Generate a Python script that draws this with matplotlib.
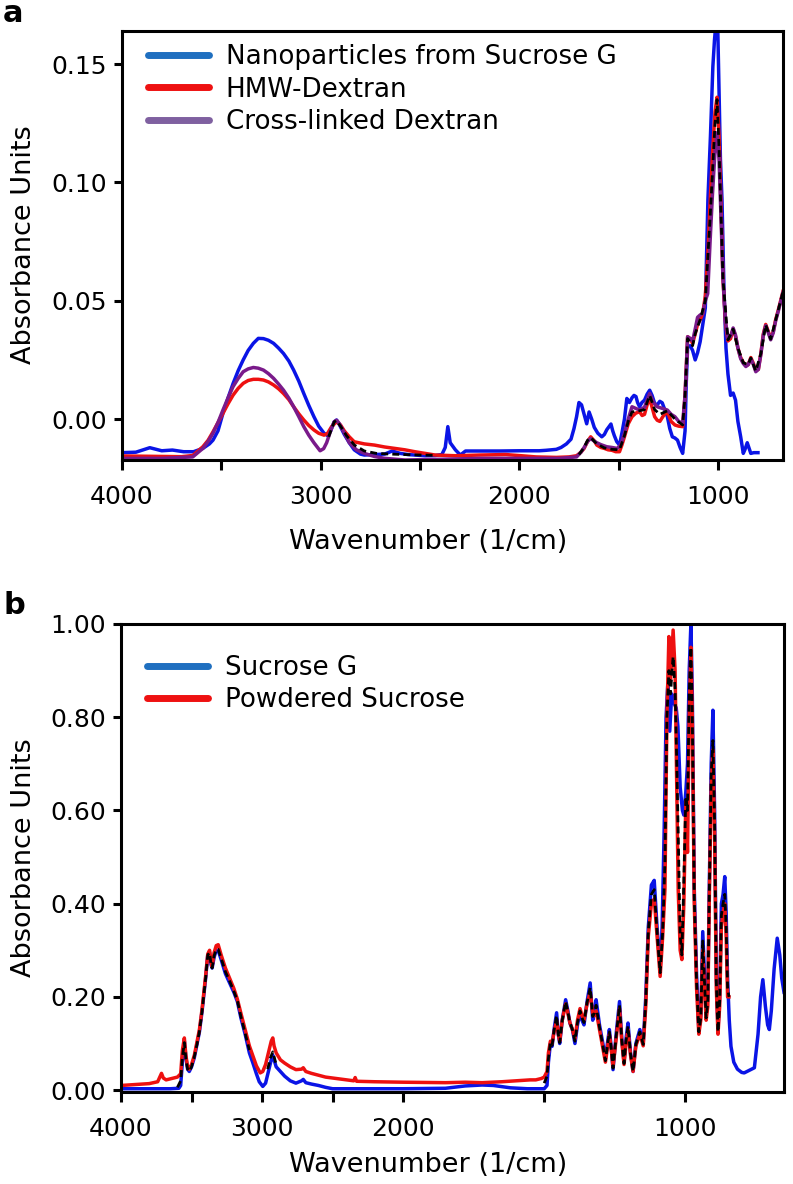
import numpy as np
import matplotlib
matplotlib.use("Agg")
import matplotlib.pyplot as plt
from matplotlib.lines import Line2D

# ---- panel a: nanoparticles / dextrans ----
wn_a_blue = [4000, 3930, 3860, 3800, 3746, 3690, 3640, 3593, 3560, 3542, 3517, 3492, 3466, 3441,
             3415, 3390, 3365, 3339, 3314, 3288, 3263, 3237, 3212, 3187, 3160, 3136, 3110, 3085,
             3060, 3034, 3010, 2983, 2965, 2950, 2932, 2920, 2905, 2881, 2856, 2831, 2800, 2780,
             2730, 2678, 2640, 2600, 2560, 2526, 2475, 2424, 2390, 2373, 2360, 2348, 2335, 2322,
             2297, 2271, 2200, 2100, 2000, 1900, 1865, 1814, 1790, 1763, 1740, 1725, 1712, 1700,
             1687, 1674, 1661, 1649, 1636, 1623, 1605, 1585, 1572, 1560, 1547, 1539, 1530, 1522,
             1510, 1496, 1484, 1471, 1459, 1446, 1433, 1423, 1413, 1405, 1395, 1383, 1370, 1357,
             1344, 1332, 1319, 1306, 1293, 1281, 1268, 1255, 1243, 1230, 1217, 1204, 1191, 1178,
             1166, 1160, 1153, 1140, 1128, 1115, 1103, 1090, 1077, 1064, 1051, 1038, 1026, 1018,
             1010, 1002, 995, 988, 980, 970, 960, 950, 937, 924, 912, 900, 886, 873, 865, 853,
             845, 835, 820, 799]
ab_a_blue = [-0.0142, -0.0140, -0.0121, -0.0134, -0.0131, -0.0138, -0.0138, -0.0124, -0.0105,
             -0.0089, -0.0050, 0.0024, 0.0090, 0.0150, 0.0205, 0.0250, 0.0290, 0.0320, 0.0341,
             0.0340, 0.0333, 0.0320, 0.0300, 0.0277, 0.0245, 0.0207, 0.0160, 0.0108, 0.0058,
             0.0010, -0.0030, -0.0060, -0.0070, -0.0050, -0.0012, -0.0004, -0.0025, -0.0065,
             -0.0100, -0.0130, -0.0148, -0.0152, -0.0150, -0.0148, -0.0135, -0.0145, -0.0150,
             -0.0152, -0.0155, -0.0154, -0.0150, -0.0120, -0.0032, -0.0100, -0.0115, -0.0130,
             -0.0152, -0.0135, -0.0135, -0.0135, -0.0134, -0.0134, -0.0132, -0.0128, -0.0120,
             -0.0105, -0.0085, -0.0040, 0.0010, 0.0070, 0.0060, 0.0020, -0.0020, 0.0030, 0.0000,
             -0.0035, -0.0060, -0.0075, -0.0065, -0.0045, -0.0030, -0.0021, -0.0050, -0.0070,
             -0.0095, -0.0110, -0.0060, 0.0000, 0.0087, 0.0070, 0.0090, 0.0100, 0.0095, 0.0070,
             0.0052, 0.0070, 0.0080, 0.0105, 0.0122, 0.0100, 0.0066, 0.0060, 0.0075, 0.0069,
             0.0040, 0.0010, -0.0040, -0.0075, -0.0080, -0.0089, -0.0120, -0.0145, -0.0050,
             0.0150, 0.0306, 0.0310, 0.0290, 0.0250, 0.0280, 0.0327, 0.0400, 0.0470, 0.0926,
             0.1200, 0.1490, 0.1600, 0.1680, 0.1680, 0.1400, 0.1100, 0.0926, 0.0545, 0.0300,
             0.0190, 0.0100, 0.0110, 0.0080, -0.0010, -0.0075, -0.0145, -0.0130, -0.0100,
             -0.0120, -0.0145, -0.0142, -0.0142]

wn_a_red = [4000, 3900, 3800, 3700, 3644, 3593, 3567, 3542, 3517, 3492, 3466, 3441, 3415, 3390,
            3365, 3339, 3314, 3288, 3263, 3237, 3212, 3187, 3160, 3136, 3110, 3085, 3060, 3034,
            3010, 2983, 2965, 2945, 2920, 2900, 2881, 2856, 2831, 2780, 2729, 2678, 2627, 2576,
            2526, 2475, 2424, 2322, 2200, 2068, 1990, 1916, 1814, 1750, 1712, 1690, 1674, 1657,
            1641, 1625, 1610, 1590, 1572, 1553, 1534, 1515, 1496, 1484, 1471, 1452, 1433, 1414,
            1395, 1382, 1370, 1357, 1344, 1332, 1319, 1306, 1293, 1274, 1255, 1236, 1217, 1198,
            1178, 1166, 1153, 1140, 1128, 1115, 1103, 1090, 1077, 1064, 1051, 1038, 1026, 1015,
            1005, 995, 985, 975, 962, 950, 937, 924, 912, 900, 886, 873, 860, 848, 835, 822, 810,
            797, 784, 772, 760, 747, 735, 722, 710, 697, 685, 673]
ab_a_red = [-0.0156, -0.0157, -0.0158, -0.0159, -0.0154, -0.0117, -0.0090, -0.0054, -0.0015,
            0.0024, 0.0065, 0.0101, 0.0130, 0.0151, 0.0163, 0.0168, 0.0168, 0.0165, 0.0157,
            0.0144, 0.0128, 0.0108, 0.0082, 0.0052, 0.0022, -0.0004, -0.0027, -0.0046, -0.0060,
            -0.0068, -0.0060, -0.0032, -0.0011, -0.0025, -0.0050, -0.0075, -0.0096, -0.0105,
            -0.0110, -0.0118, -0.0124, -0.0130, -0.0138, -0.0145, -0.0152, -0.0155, -0.0152,
            -0.0150, -0.0155, -0.0160, -0.0162, -0.0160, -0.0155, -0.0140, -0.0124, -0.0095,
            -0.0075, -0.0090, -0.0110, -0.0120, -0.0124, -0.0130, -0.0132, -0.0138, -0.0138,
            -0.0110, -0.0075, -0.0020, 0.0010, 0.0025, 0.0031, 0.0015, 0.0020, 0.0060, 0.0087,
            0.0050, 0.0010, -0.0005, -0.0010, 0.0015, 0.0031, -0.0010, -0.0025, -0.0030,
            -0.0032, 0.0100, 0.0348, 0.0340, 0.0320, 0.0360, 0.0400, 0.0420, 0.0446, 0.0520,
            0.0700, 0.0950, 0.1150, 0.1300, 0.1360, 0.1200, 0.0900, 0.0590, 0.0400, 0.0330,
            0.0340, 0.0380, 0.0350, 0.0300, 0.0260, 0.0240, 0.0225, 0.0230, 0.0260, 0.0235,
            0.0205, 0.0210, 0.0280, 0.0360, 0.0400, 0.0370, 0.0340, 0.0370, 0.0420, 0.0460,
            0.0500, 0.0540]

wn_a_purple = [4000, 3800, 3644, 3593, 3567, 3542, 3517, 3492, 3466, 3441, 3415, 3390, 3365,
               3339, 3314, 3288, 3263, 3237, 3212, 3187, 3160, 3136, 3110, 3085, 3060, 3034,
               3003, 2985, 2970, 2950, 2932, 2920, 2907, 2880, 2856, 2820, 2780, 2730, 2678,
               2576, 2400, 2200, 2000, 1800, 1712, 1690, 1674, 1657, 1641, 1625, 1610, 1590,
               1560, 1534, 1508, 1490, 1471, 1452, 1433, 1414, 1395, 1370, 1357, 1344, 1325,
               1306, 1280, 1255, 1236, 1217, 1198, 1178, 1166, 1153, 1140, 1128, 1115, 1103,
               1090, 1077, 1064, 1052, 1040, 1028, 1016, 1005, 995, 985, 975, 962, 950, 937,
               924, 912, 900, 886, 873, 860, 848, 835, 822, 810, 797, 784, 772, 760, 747, 735,
               722, 710, 697, 685, 673]
ab_a_purple = [-0.0166, -0.0166, -0.0160, -0.0124, -0.0095, -0.0060, -0.0015, 0.0038, 0.0090,
               0.0137, 0.0172, 0.0200, 0.0212, 0.0218, 0.0215, 0.0207, 0.0192, 0.0172, 0.0148,
               0.0122, 0.0088, 0.0052, 0.0010, -0.0032, -0.0068, -0.0100, -0.0134, -0.0125,
               -0.0100, -0.0050, -0.0011, -0.0005, -0.0018, -0.0060, -0.0100, -0.0130, -0.0145,
               -0.0158, -0.0166, -0.0173, -0.0170, -0.0166, -0.0166, -0.0166, -0.0160, -0.0140,
               -0.0120, -0.0095, -0.0082, -0.0092, -0.0100, -0.0108, -0.0117, -0.0120, -0.0124,
               -0.0110, -0.0060, 0.0000, 0.0052, 0.0045, 0.0038, 0.0050, 0.0080, 0.0108, 0.0070,
               0.0052, 0.0045, 0.0038, 0.0020, 0.0010, -0.0010, -0.0018, 0.0100, 0.0348, 0.0340,
               0.0330, 0.0380, 0.0430, 0.0440, 0.0446, 0.0500, 0.0530, 0.0750, 0.0950, 0.1120,
               0.1210, 0.1100, 0.0850, 0.0590, 0.0410, 0.0340, 0.0350, 0.0385, 0.0355, 0.0300,
               0.0255, 0.0235, 0.0222, 0.0230, 0.0255, 0.0230, 0.0200, 0.0210, 0.0275, 0.0355,
               0.0395, 0.0365, 0.0335, 0.0365, 0.0415, 0.0455, 0.0495, 0.0535]

# black dashed overlay trace (gaps where it is hidden)
wn_a_black = [2960, 2932, 2920, 2900, 2870, 2830, 2780, 2720, 2650, 2580, 2500, 2430, np.nan,
              1700, 1674, 1657, 1641, 1610, 1572, 1534, 1496, 1471, 1452, 1433, 1395, 1370, 1344,
              1319, 1293, 1255, 1217, 1178, 1166, 1153, 1128, 1115, 1090, 1064, 1040, 1015, 1005,
              995, 975, 950, 924, 900, 873, 848, 835, 810, 784, 760, 735, 710, 673]
ab_a_black = [-0.0075, -0.0012, -0.0006, -0.0030, -0.0070, -0.0110, -0.0135, -0.0145, -0.0148,
              -0.0150, -0.0152, -0.0153, np.nan,
              -0.0150, -0.0120, -0.0090, -0.0078, -0.0105, -0.0122, -0.0128, -0.0130, -0.0070,
              -0.0010, 0.0030, 0.0035, 0.0040, 0.0100, 0.0040, 0.0020, 0.0035, 0.0000, -0.0025,
              0.0100, 0.0340, 0.0310, 0.0360, 0.0420, 0.0500, 0.0850, 0.1250, 0.1350, 0.1150,
              0.0590, 0.0335, 0.0380, 0.0300, 0.0238, 0.0230, 0.0258, 0.0203, 0.0278, 0.0398,
              0.0338, 0.0418, 0.0538]

# ---- panel b: sucrose ----
wn_b_blue = [4000, 3800, 3650, 3590, 3577, 3565, 3551, 3540, 3528, 3516, 3500, 3480, 3460, 3444,
             3425, 3400, 3385, 3372, 3362, 3354, 3340, 3325, 3311, 3290, 3260, 3230, 3200, 3175,
             3150, 3120, 3090, 3067, 3040, 3020, 2995, 2975, 2955, 2935, 2924, 2915, 2900, 2870,
             2840, 2800, 2760, 2720, 2708, 2690, 2650, 2600, 2550, 2500, 2300, 2000, 1850, 1780,
             1720, 1680, 1620, 1560, 1500, 1490, 1485, 1478, 1472, 1465, 1456, 1450, 1445, 1436,
             1424, 1416, 1409, 1400, 1391, 1382, 1373, 1366, 1359, 1348, 1337, 1328, 1322, 1316,
             1304, 1292, 1283, 1276, 1269, 1262, 1256, 1245, 1233, 1225, 1217, 1210, 1203, 1194,
             1185, 1175, 1161, 1149, 1140, 1131, 1120, 1110, 1100, 1089, 1082, 1075, 1068, 1062,
             1055, 1048, 1040, 1032, 1026, 1018, 1010, 1005, 998, 992, 986, 980, 975, 968, 960,
             952, 945, 938, 932, 926, 920, 915, 908, 902, 896, 890, 884, 878, 872, 866, 860, 855,
             850, 844, 838, 828, 815, 800, 791, 775, 755, 742, 733, 725, 716, 708, 702, 695, 685,
             674, 665, 658, 650]
ab_b_blue = [0.003, 0.003, 0.003, 0.004, 0.010, 0.060, 0.105, 0.070, 0.045, 0.040, 0.050, 0.070,
             0.100, 0.125, 0.170, 0.240, 0.290, 0.295, 0.270, 0.262, 0.285, 0.300, 0.300, 0.280,
             0.250, 0.230, 0.210, 0.190, 0.155, 0.120, 0.080, 0.060, 0.035, 0.018, 0.008, 0.015,
             0.040, 0.065, 0.075, 0.065, 0.050, 0.040, 0.030, 0.020, 0.015, 0.020, 0.023, 0.016,
             0.013, 0.010, 0.006, 0.003, 0.003, 0.003, 0.004, 0.009, 0.011, 0.010, 0.005, 0.003,
             0.003, 0.010, 0.060, 0.100, 0.094, 0.130, 0.166, 0.120, 0.100, 0.150, 0.194, 0.170,
             0.144, 0.130, 0.100, 0.140, 0.166, 0.150, 0.140, 0.190, 0.230, 0.150, 0.170, 0.194,
             0.140, 0.100, 0.066, 0.100, 0.130, 0.090, 0.044, 0.120, 0.190, 0.110, 0.060, 0.110,
             0.144, 0.080, 0.040, 0.100, 0.130, 0.100, 0.200, 0.350, 0.440, 0.450, 0.350, 0.260,
             0.350, 0.550, 0.800, 0.870, 0.770, 0.850, 0.830, 0.820, 0.780, 0.650, 0.600, 0.590,
             0.640, 0.700, 0.900, 1.000, 0.850, 0.430, 0.250, 0.130, 0.160, 0.340, 0.250, 0.160,
             0.200, 0.430, 0.700, 0.815, 0.600, 0.250, 0.130, 0.200, 0.400, 0.420, 0.458, 0.380,
             0.240, 0.150, 0.094, 0.060, 0.045, 0.038, 0.037, 0.042, 0.048, 0.120, 0.200, 0.237,
             0.180, 0.140, 0.130, 0.170, 0.260, 0.326, 0.290, 0.240, 0.210]

wn_b_red = [4000, 3900, 3800, 3740, 3713, 3700, 3680, 3640, 3600, 3577, 3565, 3551, 3540, 3528,
            3516, 3500, 3480, 3460, 3444, 3425, 3400, 3385, 3372, 3362, 3354, 3340, 3325, 3311,
            3290, 3260, 3230, 3200, 3175, 3150, 3120, 3090, 3067, 3040, 3013, 2995, 2975, 2955,
            2935, 2924, 2915, 2900, 2870, 2840, 2800, 2760, 2720, 2708, 2690, 2650, 2600, 2550,
            2500, 2400, 2350, 2340, 2330, 2200, 2000, 1850, 1780, 1720, 1650, 1600, 1550, 1530,
            1510, 1500, 1490, 1485, 1478, 1472, 1465, 1456, 1450, 1445, 1436, 1424, 1416, 1409,
            1400, 1391, 1382, 1373, 1366, 1359, 1348, 1337, 1328, 1322, 1316, 1304, 1292, 1283,
            1276, 1269, 1262, 1256, 1245, 1233, 1225, 1217, 1210, 1203, 1194, 1185, 1175, 1161,
            1149, 1140, 1131, 1120, 1110, 1100, 1089, 1080, 1072, 1065, 1058, 1052, 1047, 1043,
            1036, 1030, 1025, 1018, 1012, 1005, 998, 992, 986, 980, 975, 968, 960, 952, 945, 938,
            932, 926, 920, 915, 908, 902, 896, 890, 884, 878, 872, 866, 860, 855, 850, 845]
ab_b_red = [0.010, 0.012, 0.014, 0.018, 0.036, 0.026, 0.022, 0.025, 0.028, 0.035, 0.085, 0.112,
            0.075, 0.050, 0.045, 0.055, 0.075, 0.105, 0.130, 0.175, 0.245, 0.292, 0.300, 0.275,
            0.265, 0.295, 0.310, 0.312, 0.290, 0.262, 0.240, 0.218, 0.195, 0.165, 0.130, 0.095,
            0.075, 0.052, 0.037, 0.040, 0.055, 0.080, 0.105, 0.112, 0.095, 0.080, 0.065, 0.058,
            0.050, 0.044, 0.045, 0.048, 0.040, 0.036, 0.032, 0.028, 0.026, 0.022, 0.020, 0.027,
            0.019, 0.018, 0.017, 0.016, 0.017, 0.016, 0.018, 0.020, 0.022, 0.022, 0.025, 0.028,
            0.040, 0.080, 0.105, 0.100, 0.125, 0.150, 0.120, 0.105, 0.150, 0.185, 0.165, 0.145,
            0.130, 0.110, 0.150, 0.175, 0.160, 0.150, 0.185, 0.210, 0.165, 0.160, 0.170, 0.130,
            0.090, 0.060, 0.090, 0.120, 0.085, 0.050, 0.110, 0.175, 0.105, 0.055, 0.100, 0.130,
            0.075, 0.040, 0.095, 0.120, 0.095, 0.180, 0.330, 0.400, 0.410, 0.330, 0.244, 0.330,
            0.430, 0.800, 0.973, 0.880, 0.940, 0.987, 0.900, 0.650, 0.430, 0.300, 0.280, 0.400,
            0.620, 0.510, 0.800, 0.950, 0.800, 0.400, 0.220, 0.120, 0.150, 0.300, 0.220, 0.150,
            0.180, 0.400, 0.650, 0.730, 0.550, 0.220, 0.120, 0.180, 0.350, 0.380, 0.400, 0.330,
            0.200, 0.200]

wn_b_black = [3600, 3577, 3565, 3551, 3540, 3528, 3516, 3500, 3480, 3460, 3444, 3425, 3400, 3385,
              3372, 3362, 3354, 3340, 3325, 3311, 3290, 3260, 3230, 3200, 3175, 3150, 3120, 3090,
              np.nan, 2960, 2940, 2924, 2915, 2900, np.nan,
              1500, 1490, 1485, 1478, 1472, 1465, 1456, 1450, 1445, 1436, 1424, 1416, 1409, 1400,
              1391, 1382, 1373, 1366, 1359, 1348, 1337, 1328, 1322, 1316, 1304, 1292, 1283, 1276,
              1269, 1262, 1256, 1245, 1233, 1225, 1217, 1210, 1203, 1194, 1185, 1175, 1161, 1149,
              1140, 1131, 1120, 1110, 1100, 1089, 1080, 1072, 1065, 1058, 1052, 1047, 1043, 1036,
              1030, 1025, 1018, 1012, 1005, 998, 992, 986, 980, 975, 968, 960, 952, 945, 938, 932,
              926, 920, 915, 908, 902, 896, 890, 884, 878, 872, 866, 860, 855, 850, 845]
ab_b_black = [0.006, 0.020, 0.070, 0.102, 0.068, 0.045, 0.040, 0.050, 0.072, 0.100, 0.126,
              0.170, 0.240, 0.290, 0.295, 0.270, 0.262, 0.288, 0.302, 0.302, 0.283, 0.254, 0.234,
              0.212, 0.192, 0.158, 0.122, 0.086, np.nan, 0.045, 0.070, 0.082, 0.072, 0.055, np.nan,
              0.015, 0.030, 0.068, 0.102, 0.096, 0.128, 0.160, 0.120, 0.102, 0.150, 0.190, 0.168,
              0.145, 0.130, 0.105, 0.145, 0.170, 0.155, 0.145, 0.188, 0.220, 0.158, 0.165, 0.182,
              0.135, 0.095, 0.063, 0.095, 0.125, 0.087, 0.047, 0.115, 0.182, 0.108, 0.057, 0.105,
              0.137, 0.078, 0.040, 0.098, 0.125, 0.098, 0.190, 0.340, 0.420, 0.430, 0.340, 0.252,
              0.340, 0.490, 0.800, 0.900, 0.850, 0.900, 0.930, 0.860, 0.700, 0.550, 0.330, 0.290,
              0.450, 0.630, 0.600, 0.850, 0.950, 0.800, 0.410, 0.235, 0.125, 0.155, 0.320, 0.235,
              0.155, 0.190, 0.415, 0.680, 0.750, 0.575, 0.235, 0.125, 0.190, 0.375, 0.400, 0.420,
              0.350, 0.220, 0.200]

labels_a = ["Nanoparticles from Sucrose G", "HMW-Dextran", "Cross-linked Dextran"]
labels_b = ["Sucrose G", "Powdered Sucrose"]

plt.rcParams['font.family'] = ['DejaVu Sans']

LINE_BLUE = '#0a14e6'
LINE_RED = '#ee1010'
LINE_PURPLE = '#7a1a8a'
LEG_BLUE = '#1f6fc0'
LEG_RED = '#ee1111'
LEG_PURPLE = '#7f60a0'


def style_axes(ax):
    for sp in ax.spines.values():
        sp.set_linewidth(2.2)
    ax.tick_params(width=2.2, length=6, labelsize=18, pad=5)
    ax.tick_params(axis='x', length=7, pad=11)


def legend(ax, labels, colors, top):
    handles = [Line2D([], [], color=c, lw=5, solid_capstyle='round') for c in colors]
    ax.legend(handles, labels, loc='upper left', bbox_to_anchor=(0.0, top), frameon=False,
              fontsize=18.8, handlelength=2.35, handletextpad=0.62, labelspacing=0.24,
              borderaxespad=0.6)


fig = plt.figure(figsize=(7.93, 11.84), dpi=100)

# panel a
ax = fig.add_axes([122 / 793, 1 - 460 / 1184, 661 / 793, 429 / 1184])
ax.plot(wn_a_blue, ab_a_blue, color=LINE_BLUE, lw=2.5)
ax.plot(wn_a_red, ab_a_red, color=LINE_RED, lw=2.5)
ax.plot(wn_a_purple, ab_a_purple, color=LINE_PURPLE, lw=2.5)
ax.plot(wn_a_black, ab_a_black, color='black', lw=2.0, ls=(0, (2.5, 1.5)))
ax.set_xlim(4000, 673)
ax.set_ylim(-0.0173, 0.164)
ax.set_xticks([4000, 3500, 3000, 2500, 2000, 1500, 1000])
ax.set_xticklabels(['4000', '', '3000', '', '2000', '', '1000'])
ax.set_yticks([0.0, 0.05, 0.10, 0.15])
ax.set_yticklabels(['0.00', '0.05', '0.10', '0.15'])
style_axes(ax)
legend(ax, labels_a, [LEG_BLUE, LEG_RED, LEG_PURPLE], 1.03)
fig.text(428 / 793, 1 - 542 / 1184, "Wavenumber (1/cm)", ha='center', va='center', fontsize=19.5)
fig.text(24 / 793, 1 - 245 / 1184, "Absorbance Units", ha='center', va='center',
         rotation=90, fontsize=19.5)
fig.text(3 / 793, 1 - 13 / 1184, "a", ha='left', va='center', fontsize=22, fontweight='bold')


# panel b: wavenumber axis expanded x2 below 2000
def fwd(x):
    x = np.asarray(x, dtype=float)
    return np.where(x >= 2000, x, 2 * x - 2000)


def inv(y):
    y = np.asarray(y, dtype=float)
    return np.where(y >= 2000, y, (y + 2000) / 2)


ax = fig.add_axes([121 / 793, 1 - 1092 / 1184, 663 / 793, 468 / 1184])
ax.set_xscale('function', functions=(fwd, inv))
ax.plot(wn_b_blue, ab_b_blue, color=LINE_BLUE, lw=2.5)
ax.plot(wn_b_red, ab_b_red, color=LINE_RED, lw=2.5)
ax.plot(wn_b_black, ab_b_black, color='black', lw=2.0, ls=(0, (2.5, 1.5)))
ax.set_xlim(4000, 650)
ax.set_ylim(-0.004, 1.0)
ax.set_xticks([4000, 3500, 3000, 2500, 2000, 1500, 1000])
ax.set_xticklabels(['4000', '', '3000', '', '2000', '', '1000'])
ax.minorticks_off()
ax.set_yticks([0.0, 0.2, 0.4, 0.6, 0.8, 1.0])
ax.set_yticklabels(['0.00', '0.20', '0.40', '0.60', '0.80', '1.00'])
style_axes(ax)
legend(ax, labels_b, [LEG_BLUE, LEG_RED], 0.99)
fig.text(428 / 793, 1 - 1165 / 1184, "Wavenumber (1/cm)", ha='center', va='center', fontsize=19.5)
fig.text(24 / 793, 1 - 858 / 1184, "Absorbance Units", ha='center', va='center',
         rotation=90, fontsize=19.5)
fig.text(3 / 793, 1 - 606 / 1184, "b", ha='left', va='center', fontsize=22, fontweight='bold')

fig.savefig("out.png", dpi=100)
